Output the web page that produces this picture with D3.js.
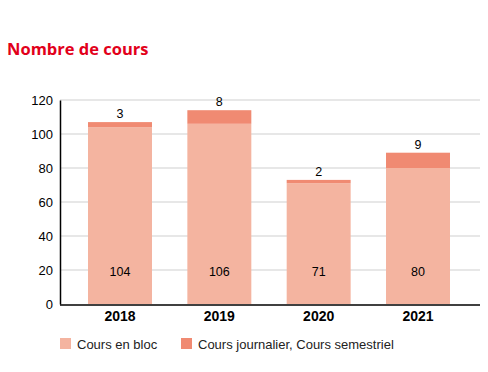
<!DOCTYPE html>
<html><head><meta charset="utf-8">
<script src="https://cdn.jsdelivr.net/npm/d3@7"></script>
<style>body{margin:0;background:#fff}svg{display:block}</style>
</head><body>
<svg id="c" width="488" height="372"></svg>
<script>
const years = ["2018","2019","2020","2021"];
const coursBloc = [104,106,71,80];
const coursJournalier = [3,8,2,9];
const seriesNames = ["Cours en bloc","Cours journalier, Cours semestriel"];
const yTicks = [0,20,40,60,80,100,120];
const colors = ["#F4B4A0","#F08A72"];

const svg = d3.select("#c");
const font = "Liberation Sans, Arial, sans-serif";
const x = d3.scaleBand().domain(years).range([60,478]).paddingInner(0.356).paddingOuter(0.282);
const y = d3.scaleLinear().domain([0,120]).range([304,100]);

svg.append("text").attr("x",7).attr("y",55).text("Nombre de cours")
  .attr("fill","#E2001A").attr("font-family","Open Sans, sans-serif").attr("font-weight","bold").attr("font-size",16.5);

// gridlines
svg.append("g").selectAll("line").data(yTicks.filter(d=>d>0)).join("line")
  .attr("x1",60).attr("x2",480).attr("y1",d=>y(d)).attr("y2",d=>y(d))
  .attr("stroke","#d0d0d0").attr("stroke-width",1.2);

const data = years.map((yr,i)=>({year:yr, a:coursBloc[i], b:coursJournalier[i]}));
const stack = d3.stack().keys(["a","b"])(data);
svg.append("g").selectAll("g").data(stack).join("g").attr("fill",(d,i)=>colors[i])
  .selectAll("rect").data(d=>d).join("rect")
  .attr("x",d=>x(d.data.year)).attr("width",x.bandwidth())
  .attr("y",d=>y(d[1])).attr("height",d=>y(d[0])-y(d[1]));

// axes
const ya = svg.append("g").attr("transform","translate(60,0)")
  .call(d3.axisLeft(y).tickValues(yTicks).tickSize(0).tickPadding(7));
ya.select(".domain").attr("stroke","#000").attr("stroke-width",1.5);
ya.selectAll("text").attr("font-family",font).attr("font-size",13).attr("fill","#000");

const xa = svg.append("g").attr("transform","translate(0,305)")
  .call(d3.axisBottom(x).tickSize(0).tickPadding(6));
xa.select(".domain").attr("d","M60,0H480").attr("stroke","#000").attr("stroke-width",1.5);
xa.selectAll("text").attr("font-family",font).attr("font-size",14).attr("font-weight","bold").attr("fill","#000");

// labels
svg.append("g").selectAll("text").data(data).join("text")
  .attr("x",d=>x(d.year)+x.bandwidth()/2).attr("y",y(19)+4)
  .attr("text-anchor","middle").attr("font-family",font).attr("font-size",12.5).text(d=>d.a);
svg.append("g").selectAll("text").data(data).join("text")
  .attr("x",d=>x(d.year)+x.bandwidth()/2).attr("y",d=>y(d.a+d.b)-4)
  .attr("text-anchor","middle").attr("font-family",font).attr("font-size",12.5).text(d=>d.b);

// legend
const lg = svg.append("g");
const lx = [60,181];
seriesNames.forEach((n,i)=>{
  lg.append("rect").attr("x",lx[i]).attr("y",338).attr("width",11).attr("height",11).attr("fill",colors[i]);
  lg.append("text").attr("x",lx[i]+17).attr("y",349).text(n)
    .attr("font-family",font).attr("font-size",13).attr("fill","#222");
});
</script>
</body></html>
